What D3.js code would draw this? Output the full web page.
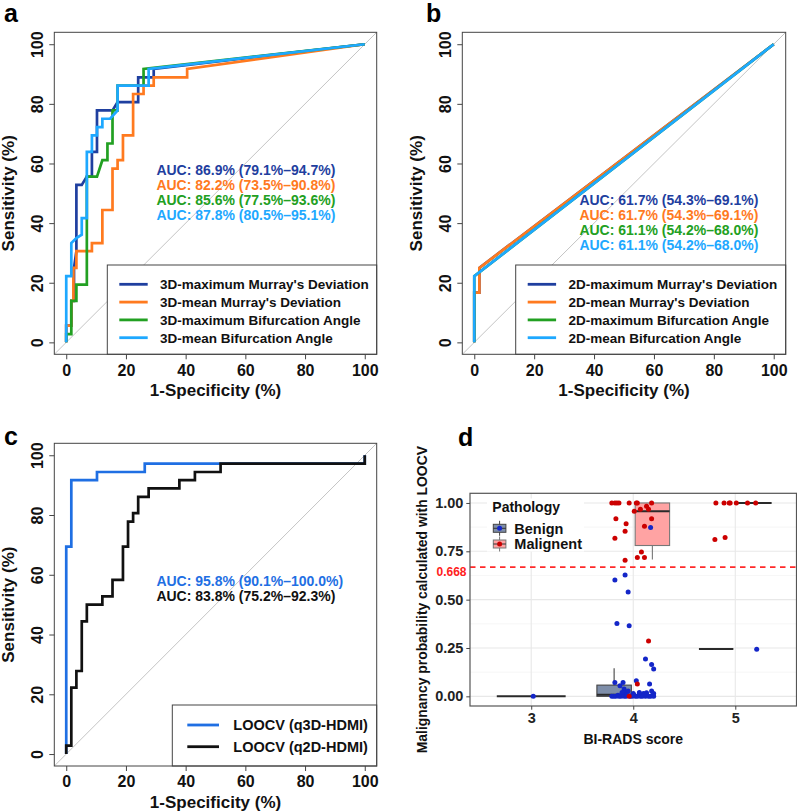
<!DOCTYPE html>
<html>
<head>
<meta charset="utf-8">
<script src="https://cdn.jsdelivr.net/npm/d3@7"></script>
<style>
  body { margin: 0; background: #fff; }
  svg { display: block; font-family: "Liberation Sans", Arial, sans-serif; font-weight: bold; }
</style>
</head>
<body>
<svg id="fig" width="797" height="812"></svg>
<script>
// ---------------- data ----------------
const rocTicks = [0, 20, 40, 60, 80, 100];

// panel a : 3D features, [1-specificity %, sensitivity %]
const a3dMaxMurray = [[0,0],[0,5.6],[1.7,5.6],[1.7,13.9],[2.6,13.9],[2.6,25],[3.4,30.6],[3.4,52.8],[5.2,52.8],[6.9,55.6],[8.6,55.6],[8.6,63.9],[10.3,63.9],[10.3,77.8],[15.5,77.8],[17.2,80.6],[24.1,80.6],[24.1,88.9],[29.3,88.9],[29.3,91.7],[100,100]];
const a3dMeanMurray = [[0,0],[0,5.6],[1.7,5.6],[1.7,13.9],[2.4,13.9],[2.4,25],[3.4,25],[3.4,30.6],[8.6,30.6],[8.6,33.3],[12.1,33.3],[12.1,44.4],[15.5,44.4],[15.5,58.3],[17.2,58.3],[17.2,61.1],[19,61.1],[19,69.4],[22.4,69.4],[22.4,83.3],[25.9,83.3],[25.9,86.1],[29.3,86.1],[29.3,88.9],[40.5,88.9],[40.5,91.7],[100,100]];
const a3dMaxAngle = [[0,0],[0,2.8],[1.7,2.8],[1.7,13.9],[3.4,13.9],[3.4,19.4],[6.9,19.4],[6.9,55.6],[10.3,55.6],[12.1,61.1],[13.8,61.1],[13.8,66.7],[15.5,66.7],[15.5,77.8],[17.2,77.8],[17.2,86.1],[25.9,86.1],[25.9,91.7],[100,100]];
const a3dMeanAngle = [[0,0],[0,22.2],[1.7,22.2],[1.7,33.3],[3.4,35],[5.2,36.1],[5.2,41.7],[6.9,41.7],[6.9,63.9],[8.6,63.9],[8.6,69.4],[10.3,69.4],[10.3,72.2],[12.1,72.2],[12.1,75],[14.7,75],[17.2,77.8],[17.2,86.1],[27.6,86.1],[27.6,91.7],[100,100]];
const aLegend = ["3D-maximum Murray's Deviation", "3D-mean Murray's Deviation", "3D-maximum Bifurcation Angle", "3D-mean Bifurcation Angle"];
const aAuc = ["AUC: 86.9% (79.1%\u201394.7%)", "AUC: 82.2% (73.5%\u201390.8%)", "AUC: 85.6% (77.5%\u201393.6%)", "AUC: 87.8% (80.5%\u201395.1%)"];

// panel b : 2D features
const b2dMaxMurray = [[0,0],[0,16.7],[1.7,16.7],[1.7,25],[100,100]];
const b2dMeanMurray = [[0,0],[0,16.7],[1.7,16.7],[1.7,25],[100,100]];
const b2dMaxAngle = [[0,0],[0,22.2],[100,100]];
const b2dMeanAngle = [[0,0],[0,22.2],[100,100]];
const bLegend = ["2D-maximum Murray's Deviation", "2D-mean Murray's Deviation", "2D-maximum Bifurcation Angle", "2D-mean Bifurcation Angle"];
const bAuc = ["AUC: 61.7% (54.3%\u201369.1%)", "AUC: 61.7% (54.3%\u201369.1%)", "AUC: 61.1% (54.2%\u201368.0%)", "AUC: 61.1% (54.2%\u201368.0%)"];

// panel c : LOOCV
const cQ3d = [[0,0],[0,69.4],[1.7,69.4],[1.7,91.7],[10.3,91.7],[10.3,94.4],[26.3,94.4],[26.3,97.2],[100,97.2],[100,100]];
const cQ2d = [[0,0],[0,2.8],[1.7,2.8],[1.7,22.2],[3.4,22.2],[3.4,27.8],[5.2,27.8],[5.2,44.4],[6.9,44.4],[6.9,50],[12.1,50],[12.1,52.8],[15.5,52.8],[15.5,58.3],[19,58.3],[19,69.4],[20.7,69.4],[20.7,77.8],[22.4,77.8],[22.4,80.6],[24.1,80.6],[24.1,86.1],[27.6,86.1],[27.6,88.9],[37.9,88.9],[37.9,91.7],[43.1,91.7],[43.1,94.4],[51.7,94.4],[51.7,97.2],[100,97.2],[100,100]];
const cLegend = ["LOOCV (q3D-HDMI)", "LOOCV (q2D-HDMI)"];
const cAuc = ["AUC: 95.8% (90.1%\u2013100.0%)", "AUC: 83.8% (75.2%\u201392.3%)"];

const fourColors = ["#1f3f9f", "#ff7a1f", "#22a022", "#1ea8ff"];
const twoColors = ["#1f6fe3", "#111111"];

// panel d : malignancy probability by BI-RADS
const biradsCats = [3, 4, 5];
const dTicks = [0, 0.25, 0.5, 0.75, 1];
const cutoff = 0.668;
const pathologies = ["Benign", "Malignent"];
const boxCat   = [3, 4, 4, 5, 5];
const boxGroup = ["Benign", "Benign", "Malignent", "Benign", "Malignent"];
const boxSlot  = [0, -1, 1, -1, 1];      // -1 / +1 dodged, 0 alone
const boxLo    = [0, 0, 0.708, 0.245, 1];
const boxQ1    = [0, 0, 0.78, 0.245, 1];
const boxMed   = [0, 0.008, 0.957, 0.245, 1];
const boxQ3    = [0, 0.058, 1, 0.245, 1];
const boxHi    = [0, 0.145, 1, 0.245, 1];

const benignX = [3.02, 4.17, 3.92, 3.82, 3.95, 3.84, 3.96, 4.12, 4.18, 4.20, 4.03, 3.82, 3.90, 3.87, 4.16, 3.91, 3.92, 3.95, 4.10, 4.13, 4.18, 4.20, 4.00,
  3.79, 3.81, 3.83, 3.85, 3.86, 3.88, 3.90, 3.91, 3.93, 3.94, 3.97, 3.99, 4.01, 4.02, 4.04, 4.06, 4.07, 4.09, 4.10, 4.12, 4.13, 4.15, 4.17, 4.19, 4.20, 3.89, 4.06, 5.21];
const benignY = [0, 0.873, 0.628, 0.601, 0.54, 0.377, 0.365, 0.193, 0.165, 0.141, 0.081, 0.072, 0.072, 0.055, 0.064, 0.038, 0.019, 0.028, 0.015, 0.019, 0.028, 0.015, 0.015,
  0, 0, 0, 0.005, 0, 0, 0.01, 0, 0, 0.005, 0, 0, 0.005, 0, 0, 0.01, 0, 0, 0.005, 0, 0.01, 0, 0, 0.005, 0, 0.02, 0.02, 0.243];
const malignX = [3.79, 3.82, 3.84, 3.86, 3.96, 4.03, 4.04, 4.18, 4.01, 4.07, 4.13, 4.15, 3.83, 4.18, 3.93, 4.11, 3.92, 3.82, 4.08, 4.04, 4.11, 3.92, 4.15, 4.04, 3.96,
  4.81, 4.89, 4.94, 4.95, 5.01, 5.12, 5.20, 4.80, 4.90];
const malignY = [1, 1, 1, 1, 1, 1, 1, 1, 0.957, 0.968, 0.983, 0.967, 0.919, 0.919, 0.893, 0.88, 0.854, 0.818, 0.747, 0.718, 0.718, 0.704, 0.286, 0.064, 0,
  1, 1, 1, 1, 1, 1, 1, 0.811, 0.821];

const boxFill = {Benign: "#7e8ea9", Malignent: "#ffa3a3"};
const boxStroke = {Benign: "#444444", Malignent: "#777777"};
const dotFill = {Benign: "#1426c8", Malignent: "#cc0000"};

// ---------------- drawing ----------------
const svg = d3.select("#fig");
const defs = svg.append("defs");

function rocPanel(cfg) {
  const x = d3.scaleLinear().domain([-4, 104]).range([cfg.L, cfg.R]);
  const y = d3.scaleLinear().domain([-4, 104]).range([cfg.B, cfg.T]);
  const g = svg.append("g");

  defs.append("clipPath").attr("id", "clip" + cfg.id)
    .append("rect").attr("x", cfg.L).attr("y", cfg.T)
    .attr("width", cfg.R - cfg.L).attr("height", cfg.B - cfg.T);

  // reference diagonal
  g.append("line")
    .attr("x1", x(-4)).attr("y1", y(-4)).attr("x2", x(104)).attr("y2", y(104))
    .attr("stroke", "#bdbdbd").attr("stroke-width", 0.9)
    .attr("clip-path", `url(#clip${cfg.id})`);

  const line = d3.line().x(d => x(d[0])).y(d => y(d[1]));
  cfg.curves.forEach((c, i) => {
    g.append("path").attr("d", line(c))
      .attr("fill", "none").attr("stroke", cfg.colors[i])
      .attr("stroke-width", 2.7).attr("stroke-linejoin", "miter");
  });

  // legend bottom-right
  const lg = g.append("g");
  lg.append("rect")
    .attr("x", cfg.R - cfg.legW).attr("y", cfg.B - cfg.legH)
    .attr("width", cfg.legW).attr("height", cfg.legH)
    .attr("fill", "#fff").attr("stroke", "#444").attr("stroke-width", 1);
  cfg.legend.forEach((t, i) => {
    const yy = cfg.B - cfg.legH + cfg.legFirst + i * cfg.legStep;
    const x0 = cfg.R - cfg.legW + cfg.legLine[0];
    lg.append("line").attr("x1", x0).attr("x2", x0 + cfg.legLine[1])
      .attr("y1", yy).attr("y2", yy)
      .attr("stroke", cfg.colors[i]).attr("stroke-width", 2.8);
    lg.append("text").attr("x", x0 + cfg.legLine[2]).attr("y", yy + cfg.legFont * 0.36)
      .attr("font-size", cfg.legFont).attr("fill", "#111").text(t);
  });

  // AUC texts
  cfg.auc.forEach((t, i) => {
    g.append("text")
      .attr("x", x(cfg.aucPos[0]))
      .attr("y", y(cfg.aucPos[1]) + 5 + i * 15)
      .attr("font-size", 14).attr("fill", cfg.colors[i]).text(t);
  });

  // frame
  g.append("rect").attr("x", cfg.L).attr("y", cfg.T)
    .attr("width", cfg.R - cfg.L).attr("height", cfg.B - cfg.T)
    .attr("fill", "none").attr("stroke", "#444").attr("stroke-width", 1);

  // axes
  const ax = g.append("g").attr("transform", `translate(0,${cfg.B})`)
    .call(d3.axisBottom(x).tickValues(rocTicks).tickSize(5).tickPadding(5));
  const ay = g.append("g").attr("transform", `translate(${cfg.L},0)`)
    .call(d3.axisLeft(y).tickValues(rocTicks).tickSize(5));
  [ax, ay].forEach(a => {
    a.select(".domain").remove();
    a.selectAll("line").attr("stroke", "#444");
    a.selectAll("text").attr("font-size", 16).attr("fill", "#111")
      .attr("font-family", null);
  });
  ay.selectAll("text")
    .attr("x", 0).attr("dy", null).attr("text-anchor", "middle")
    .attr("transform", "translate(-11,0) rotate(-90)");

  // titles
  g.append("text").attr("x", (cfg.L + cfg.R) / 2).attr("y", cfg.B + 41.5)
    .attr("text-anchor", "middle").attr("font-size", 17).attr("fill", "#111")
    .text("1-Specificity (%)");
  g.append("text")
    .attr("transform", `translate(${cfg.L - 40},${(cfg.T + cfg.B) / 2}) rotate(-90)`)
    .attr("text-anchor", "middle").attr("font-size", 17).attr("fill", "#111")
    .text("Sensitivity (%)");

  // panel letter
  svg.append("text").attr("x", cfg.letterPos[0]).attr("y", cfg.letterPos[1])
    .attr("font-size", 25).attr("fill", "#000").text(cfg.id);
}

rocPanel({
  id: "a", L: 54.3, R: 376.7, T: 32.3, B: 354.3,
  curves: [a3dMaxMurray, a3dMeanMurray, a3dMaxAngle, a3dMeanAngle],
  colors: fourColors, legend: aLegend, auc: aAuc, aucPos: [30.2, 57.9],
  legW: 269.4, legH: 89.3, legFirst: 19.3, legStep: 17.8, legLine: [12, 28.4, 40.7], legFont: 13.5,
  letterPos: [4, 21.7]
});
rocPanel({
  id: "b", L: 462.3, R: 785.7, T: 32.3, B: 354.3,
  curves: [b2dMaxMurray, b2dMeanMurray, b2dMaxAngle, b2dMeanAngle],
  colors: fourColors, legend: bLegend, auc: bAuc, aucPos: [35.1, 47.8],
  legW: 270, legH: 89.3, legFirst: 19.3, legStep: 17.8, legLine: [12, 28.4, 40.7], legFont: 13.5,
  letterPos: [426, 21.7]
});
rocPanel({
  id: "c", L: 54.3, R: 376.7, T: 443.3, B: 766,
  curves: [cQ3d, cQ2d],
  colors: twoColors, legend: cLegend, auc: cAuc, aucPos: [30.2, 57.8],
  legW: 204.4, legH: 61, legFirst: 20, legStep: 21.7, legLine: [15, 31.7, 46], legFont: 14.5,
  letterPos: [4, 445]
});

// ---------------- panel d ----------------
(function () {
  const L = 470, R = 796.5, T = 493.3, B = 706;
  const x = d3.scaleLinear().domain([2.4, 5.6]).range([L, R]);
  const y = d3.scaleLinear().domain([-0.05, 1.05]).range([B, T]);
  const g = svg.append("g");

  g.append("rect").attr("x", L).attr("y", T).attr("width", R - L).attr("height", B - T).attr("fill", "#fff");
  // grid
  const minor = [0.125, 0.375, 0.625, 0.875];
  g.selectAll(".gmin").data(minor).join("line")
    .attr("x1", L).attr("x2", R).attr("y1", d => y(d)).attr("y2", d => y(d))
    .attr("stroke", "#f0f0f0").attr("stroke-width", 0.6);
  g.selectAll(".gmaj").data(dTicks).join("line")
    .attr("x1", L).attr("x2", R).attr("y1", d => y(d)).attr("y2", d => y(d))
    .attr("stroke", "#e8e8e8").attr("stroke-width", 1.1);
  g.selectAll(".gv").data(biradsCats).join("line")
    .attr("x1", d => x(d)).attr("x2", d => x(d)).attr("y1", T).attr("y2", B)
    .attr("stroke", "#e8e8e8").attr("stroke-width", 1.1);

  // boxes
  const half = 0.75 * 0.9 / 4;
  boxCat.forEach((c, i) => {
    const cx = c + boxSlot[i] * 0.1875;
    const hw = boxSlot[i] === 0 ? half * 2 : half;
    const grp = boxGroup[i];
    const bg = g.append("g");
    bg.append("line").attr("x1", x(cx)).attr("x2", x(cx))
      .attr("y1", y(boxLo[i])).attr("y2", y(boxHi[i]))
      .attr("stroke", boxStroke[grp]).attr("stroke-width", 1.1);
    bg.append("rect").attr("x", x(cx - hw)).attr("width", x(cx + hw) - x(cx - hw))
      .attr("y", y(boxQ3[i])).attr("height", Math.max(0, y(boxQ1[i]) - y(boxQ3[i])))
      .attr("fill", boxFill[grp]).attr("stroke", boxStroke[grp]).attr("stroke-width", 1.1);
    bg.append("line").attr("x1", x(cx - hw)).attr("x2", x(cx + hw))
      .attr("y1", y(boxMed[i])).attr("y2", y(boxMed[i]))
      .attr("stroke", "#2a2a2a").attr("stroke-width", 2);
  });

  // cut-off
  g.append("line").attr("x1", L).attr("x2", R).attr("y1", y(cutoff)).attr("y2", y(cutoff))
    .attr("stroke", "#ff2a2a").attr("stroke-width", 1.6).attr("stroke-dasharray", "5.5,4.5");

  // jittered points
  g.selectAll(".pb").data(benignX).join("circle")
    .attr("cx", d => x(d)).attr("cy", (d, i) => y(benignY[i])).attr("r", 2.5)
    .attr("fill", dotFill.Benign);
  g.selectAll(".pm").data(malignX).join("circle")
    .attr("cx", d => x(d)).attr("cy", (d, i) => y(malignY[i])).attr("r", 2.5)
    .attr("fill", dotFill.Malignent);

  // legend
  const lg = g.append("g");
  lg.append("rect").attr("x", 487).attr("y", 498.5).attr("width", 97).attr("height", 53).attr("fill", "#fff");
  lg.append("text").attr("x", 492.3).attr("y", 511.8).attr("font-size", 14).attr("fill", "#111").text("Pathology");
  pathologies.forEach((p, i) => {
    const cy = 528.3 + i * 15.7, cx = 499.6;
    lg.append("line").attr("x1", cx).attr("x2", cx).attr("y1", cy - 7.5).attr("y2", cy + 7.5)
      .attr("stroke", boxStroke[p]).attr("stroke-width", 1);
    lg.append("rect").attr("x", cx - 6.3).attr("y", cy - 4).attr("width", 12.6).attr("height", 8)
      .attr("fill", boxFill[p]).attr("stroke", boxStroke[p]).attr("stroke-width", 1);
    lg.append("line").attr("x1", cx - 6.3).attr("x2", cx + 6.3).attr("y1", cy).attr("y2", cy)
      .attr("stroke", "#333").attr("stroke-width", 1);
    lg.append("circle").attr("cx", cx).attr("cy", cy).attr("r", 2.5).attr("fill", dotFill[p]);
    lg.append("text").attr("x", 514.3).attr("y", cy + 5.2).attr("font-size", 14.5).attr("fill", "#111").text(p);
  });

  // border
  g.append("rect").attr("x", L).attr("y", T).attr("width", R - L).attr("height", B - T)
    .attr("fill", "none").attr("stroke", "#555").attr("stroke-width", 1.2);

  // axes
  const ax = g.append("g").attr("transform", `translate(0,${B})`)
    .call(d3.axisBottom(x).tickValues(biradsCats).tickFormat(d3.format("d")).tickSize(3.7).tickPadding(2.9));
  const ay = g.append("g").attr("transform", `translate(${L},0)`)
    .call(d3.axisLeft(y).tickValues(dTicks).tickFormat(d3.format(".2f")).tickSize(3.7).tickPadding(2.9));
  [ax, ay].forEach(a => {
    a.select(".domain").remove();
    a.selectAll("line").attr("stroke", "#444");
    a.selectAll("text").attr("font-family", null).attr("fill", "#222").attr("font-size", 14.5);
  });

  g.append("text").attr("x", L - 3.5).attr("y", y(cutoff) + 8.5)
    .attr("text-anchor", "end").attr("font-size", 12).attr("fill", "#ff2020").text(cutoff.toFixed(3));

  g.append("text").attr("x", (L + R) / 2).attr("y", 743.5).attr("text-anchor", "middle")
    .attr("font-size", 14).attr("fill", "#111").text("BI-RADS score");
  g.append("text")
    .attr("transform", `translate(426.5,${(T + B) / 2}) rotate(-90)`)
    .attr("text-anchor", "middle").attr("font-size", 13.9).attr("fill", "#111")
    .text("Malignancy probability calculated with LOOCV");

  svg.append("text").attr("x", 458).attr("y", 446).attr("font-size", 25).attr("fill", "#000").text("d");
})();
</script>
</body>
</html>
